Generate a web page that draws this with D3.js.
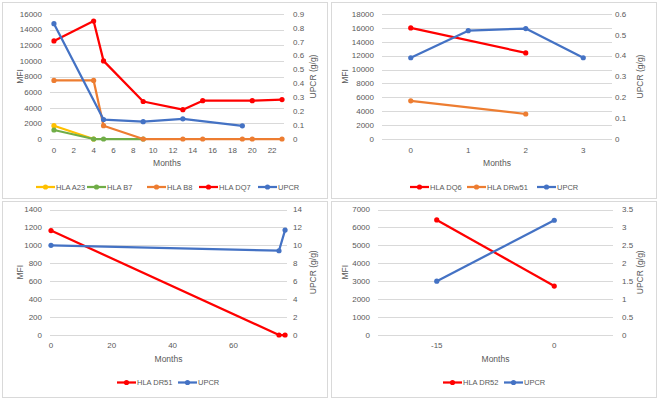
<!DOCTYPE html>
<html>
<head>
<meta charset="utf-8">
<script src="https://cdn.jsdelivr.net/npm/d3@7"></script>
<style>
  body { margin: 0; background: #fff; }
  svg text { font-family: "Liberation Sans", Arial, sans-serif; fill: #595959; }
</style>
</head>
<body>
<div id="chart"></div>
<script>
// ---- data ----
// panel 1
const a23Months = [0, 4];
const a23Mfi = [1700, 0];
const b7Months = [0, 4, 5, 9];
const b7Mfi = [1150, 0, 0, 0];
const b8Months = [0, 4, 5, 9, 13, 15, 19, 20, 23];
const b8Mfi = [7500, 7500, 1700, 0, 0, 0, 0, 0, 0];
const dq7Months = [0, 4, 5, 9, 13, 15, 20, 23];
const dq7Mfi = [12550, 15100, 10000, 4800, 3750, 4900, 4900, 5050];
const upcr1Months = [0, 5, 9, 13, 19];
const upcr1 = [0.83, 0.14, 0.125, 0.145, 0.095];
const p1XTicks = [0, 2, 4, 6, 8, 10, 12, 14, 16, 18, 20, 22];

// panel 2 (category axis)
const p2Months = ["0", "1", "2", "3"];
const dq6Mfi = [16000, null, 12400, null];
const drw51Mfi = [5500, null, 3600, null];
const upcr2 = [0.39, 0.52, 0.53, 0.39];

// panel 3
const dr51Months = [0, 75, 77];
const dr51Mfi = [1165, 0, 0];
const upcr3Months = [0, 75, 77];
const upcr3 = [10, 9.4, 11.7];
const p3XTicks = [0, 20, 40, 60];

// panel 4 (category axis)
const p4Months = ["-15", "0"];
const dr52Mfi = [6420, 2730];
const upcr4 = [1.5, 3.2];

const colors = {
  yellow: "#FFC000", green: "#70AD47", orange: "#ED7D31",
  red: "#FF0000", blue: "#4472C4"
};

const svg = d3.select("#chart").append("svg")
  .attr("width", 661).attr("height", 402);

// panel frames
[[2, 2], [331, 2], [2, 201], [331, 201]].forEach(([x, y]) => {
  svg.append("rect")
    .attr("x", x + 0.5).attr("y", y + 0.5)
    .attr("width", 325).attr("height", 196)
    .attr("fill", "#fff").attr("stroke", "#d9d9d9");
});

function zip(xs, ys) {
  return xs.map((x, i) => ({x: x, y: ys[i]})).filter(d => d.y !== null);
}

function drawPanel(cfg) {
  const g = svg.append("g");
  const x = cfg.x;
  const yL = d3.scaleLinear().domain([0, cfg.leftMax]).range([cfg.bottom, cfg.top]);
  const yR = d3.scaleLinear().domain([0, cfg.rightMax]).range([cfg.bottom, cfg.top]);
  const [gx0, gx1] = cfg.gridX;

  // gridlines
  const leftTicks = d3.range(0, cfg.leftMax + cfg.leftStep / 2, cfg.leftStep);
  g.selectAll(".grid").data(leftTicks).enter().append("line")
    .attr("x1", gx0).attr("x2", gx1)
    .attr("y1", d => Math.round(yL(d)) + 0.5).attr("y2", d => Math.round(yL(d)) + 0.5)
    .attr("stroke", "#d9d9d9").attr("stroke-width", 1);

  // left tick labels
  g.selectAll(".lt").data(leftTicks).enter().append("text")
    .attr("x", gx0 - 8).attr("y", d => yL(d)).attr("dy", "0.35em")
    .attr("text-anchor", "end").attr("font-size", 8)
    .text(d => d);

  // right tick labels
  const rightTicks = d3.range(0, cfg.rightMax + cfg.rightStep / 2, cfg.rightStep);
  g.selectAll(".rt").data(rightTicks).enter().append("text")
    .attr("x", cfg.rightLabelX).attr("y", d => yR(d)).attr("dy", "0.35em")
    .attr("text-anchor", "start").attr("font-size", 8)
    .text(d => d3.format("~g")(+d.toFixed(2)));

  // x tick labels
  g.selectAll(".xt").data(cfg.xTicks).enter().append("text")
    .attr("x", d => cfg.xPos(d)).attr("y", cfg.xLabelY).attr("dy", "0.35em")
    .attr("text-anchor", "middle").attr("font-size", 8)
    .text(d => d);

  // axis titles
  g.append("text")
    .attr("x", (gx0 + gx1) / 2).attr("y", cfg.xTitleY).attr("dy", "0.35em")
    .attr("text-anchor", "middle").attr("font-size", 8.5)
    .text("Months");
  const midY = (cfg.top + cfg.bottom) / 2;
  g.append("text")
    .attr("transform", `translate(${cfg.leftTitleX},${midY}) rotate(-90)`)
    .attr("dy", "0.35em").attr("text-anchor", "middle").attr("font-size", 8.5)
    .text("MFI");
  g.append("text")
    .attr("transform", `translate(${cfg.rightTitleX},${midY}) rotate(-90)`)
    .attr("dy", "0.35em").attr("text-anchor", "middle").attr("font-size", 8.5)
    .text("UPCR (g/g)");

  // series
  const line = (ys) => d3.line().x(d => cfg.xPos(d.x)).y(d => ys(d.y));
  cfg.series.forEach(s => {
    const ys = s.axis === "right" ? yR : yL;
    const pts = zip(s.xs, s.ys);
    g.append("path").datum(pts)
      .attr("d", line(ys))
      .attr("fill", "none").attr("stroke", s.color)
      .attr("stroke-width", 2.25).attr("stroke-linejoin", "round");
    g.selectAll(null).data(pts).enter().append("circle")
      .attr("cx", d => cfg.xPos(d.x)).attr("cy", d => ys(d.y))
      .attr("r", 2.6).attr("fill", s.color);
  });

  // legend
  cfg.series.forEach((s, i) => {
    const lx = cfg.legendX[i];
    const ly = cfg.legendY;
    g.append("line")
      .attr("x1", lx).attr("x2", lx + 19).attr("y1", ly).attr("y2", ly)
      .attr("stroke", s.color).attr("stroke-width", 2.25);
    g.append("circle").attr("cx", lx + 9.5).attr("cy", ly).attr("r", 2.6).attr("fill", s.color);
    g.append("text")
      .attr("x", lx + 20).attr("y", ly).attr("dy", "0.35em")
      .attr("font-size", 7.5).text(s.name);
  });
}

// panel 1: linear month axis
const x1 = d3.scaleLinear().domain([-0.4, 23.2]).range([50, 284]);
drawPanel({
  x: x1, xPos: d => x1(d), xTicks: p1XTicks, gridX: [50, 284],
  top: 14, bottom: 139, leftMax: 16000, leftStep: 2000, rightMax: 0.9, rightStep: 0.1,
  rightLabelX: 293, xLabelY: 150, xTitleY: 163, leftTitleX: 20, rightTitleX: 313,
  legendY: 187, legendX: [36, 87, 147, 199, 258],
  series: [
    {name: "HLA A23", xs: a23Months, ys: a23Mfi, color: colors.yellow, axis: "left"},
    {name: "HLA B7", xs: b7Months, ys: b7Mfi, color: colors.green, axis: "left"},
    {name: "HLA B8", xs: b8Months, ys: b8Mfi, color: colors.orange, axis: "left"},
    {name: "HLA DQ7", xs: dq7Months, ys: dq7Mfi, color: colors.red, axis: "left"},
    {name: "UPCR", xs: upcr1Months, ys: upcr1, color: colors.blue, axis: "right"}
  ]
});

// panel 2: category axis
const x2 = d3.scaleBand().domain(p2Months).range([382, 612]);
drawPanel({
  x: x2, xPos: d => x2(d) + x2.bandwidth() / 2, xTicks: p2Months, gridX: [382, 612],
  top: 14, bottom: 139, leftMax: 18000, leftStep: 2000, rightMax: 0.6, rightStep: 0.1,
  rightLabelX: 615, xLabelY: 150, xTitleY: 163, leftTitleX: 345, rightTitleX: 640,
  legendY: 187, legendX: [410, 467, 537],
  series: [
    {name: "HLA DQ6", xs: p2Months, ys: dq6Mfi, color: colors.red, axis: "left"},
    {name: "HLA DRw51", xs: p2Months, ys: drw51Mfi, color: colors.orange, axis: "left"},
    {name: "UPCR", xs: p2Months, ys: upcr2, color: colors.blue, axis: "right"}
  ]
});

// panel 3: linear month axis
const x3 = d3.scaleLinear().domain([0, 77.8]).range([51, 287.5]);
drawPanel({
  x: x3, xPos: d => x3(d), xTicks: p3XTicks, gridX: [50, 287],
  top: 209.5, bottom: 335, leftMax: 1400, leftStep: 200, rightMax: 14, rightStep: 2,
  rightLabelX: 293, xLabelY: 345.5, xTitleY: 359, leftTitleX: 20, rightTitleX: 313,
  legendY: 382.5, legendX: [117, 178],
  series: [
    {name: "HLA DR51", xs: dr51Months, ys: dr51Mfi, color: colors.red, axis: "left"},
    {name: "UPCR", xs: upcr3Months, ys: upcr3, color: colors.blue, axis: "right"}
  ]
});

// panel 4: category axis
const x4 = d3.scaleBand().domain(p4Months).range([378, 613]);
drawPanel({
  x: x4, xPos: d => x4(d) + x4.bandwidth() / 2, xTicks: p4Months, gridX: [378, 613],
  top: 209.5, bottom: 335, leftMax: 7000, leftStep: 1000, rightMax: 3.5, rightStep: 0.5,
  rightLabelX: 622, xLabelY: 345.5, xTitleY: 359, leftTitleX: 345, rightTitleX: 640,
  legendY: 382.5, legendX: [443, 504],
  series: [
    {name: "HLA DR52", xs: p4Months, ys: dr52Mfi, color: colors.red, axis: "left"},
    {name: "UPCR", xs: p4Months, ys: upcr4, color: colors.blue, axis: "right"}
  ]
});
</script>
</body>
</html>
